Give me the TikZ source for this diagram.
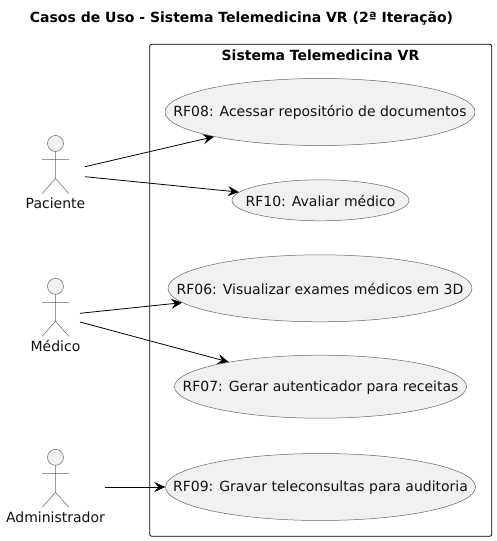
\documentclass[tikz,border=0pt]{standalone}
\usepackage{fontspec}
\setmainfont{DejaVu Sans}
\usetikzlibrary{arrows.meta, shapes.geometric}
\definecolor{ucfill}{HTML}{F1F1F1}
\definecolor{ucline}{HTML}{666666}
\definecolor{uctext}{HTML}{111111}

\tikzset{
  usecase/.style={ellipse,draw=ucline,fill=ucfill,inner sep=0pt,line width=0.5pt},
  ucname/.style={text=uctext,inner sep=0pt,yshift=-0.7pt,font=\fontsize{14}{16}\selectfont},
  actorlabel/.style={text=uctext,inner sep=0pt,font=\fontsize{14}{16}\selectfont},
  boldlabel/.style={inner sep=0pt,font=\bfseries\fontsize{14}{16}\selectfont},
  actorline/.style={draw=ucline,line width=0.5pt},
  assoc/.style={-{Stealth[length=11pt,width=10pt,inset=4pt]},black,line width=0.8pt}
}

% stick figure: #1 = x of axis, #2 = y of head centre
\newcommand{\actorfig}[2]{
  \draw[actorline,fill=ucfill] (#1,#2) circle (8);
  \draw[actorline] (#1,#2+8) -- (#1,#2+35)
    (#1-13.3,#2+16) -- (#1+13.3,#2+16)
    (#1-13.3,#2+50) -- (#1,#2+35) -- (#1+13.3,#2+50);
}

\begin{document}
\begin{tikzpicture}[x=1pt,y=-1pt]
  \useasboundingbox (0,0) rectangle (496,541);

  % title
  \node (title) at (241.5,18) [boldlabel] {Casos de Uso - Sistema Telemedicina VR (2ª Iteração)};

  % system boundary
  \draw[black,line width=0.8pt,rounded corners=2pt] (149.7,44.3) rectangle (491.7,536.3);
  \node (system) at (320.5,55) [boldlabel] {Sistema Telemedicina VR};

  % use cases
  \node (rf08) at (320,112) [usecase,minimum width=310pt,minimum height=67pt,label={[ucname]center:RF08: Acessar repositório de documentos}] {};
  \node (rf10) at (320.5,200.3) [usecase,minimum width=177pt,minimum height=41pt,label={[ucname]center:RF10: Avaliar médico}] {};
  \node (rf06) at (320,288.3) [usecase,minimum width=304pt,minimum height=67pt,label={[ucname]center:RF06: Visualizar exames médicos em 3D}] {};
  \node (rf07) at (320.5,386.7) [usecase,minimum width=292pt,minimum height=63pt,label={[ucname]center:RF07: Gerar autenticador para receitas}] {};
  \node (rf09) at (320.5,487) [usecase,minimum width=310pt,minimum height=67pt,label={[ucname]center:RF09: Gravar teleconsultas para auditoria}] {};

  % actors
  \actorfig{55.5}{143.5}
  \node (paciente) at (55.5,203) [actorlabel] {Paciente};
  \actorfig{55.5}{286.3}
  \node (medico) at (55.5,346) [actorlabel] {Médico};
  \actorfig{55.5}{457.3}
  \node (admin) at (55.5,517) [actorlabel] {Administrador};

  % free ends of the connectors
  \coordinate (pacA) at (85,166.7);
  \coordinate (pacB) at (85,176.7);
  \coordinate (medA) at (80,313.3);
  \coordinate (medB) at (80,322);
  \coordinate (admA) at (105,487);

  \draw[assoc] (pacA) -- (rf08);
  \draw[assoc] (pacB) -- (rf10);
  \draw[assoc] (medA) -- (rf06);
  \draw[assoc] (medB) -- (rf07);
  \draw[assoc] (admA) -- (rf09);
\end{tikzpicture}
\end{document}
